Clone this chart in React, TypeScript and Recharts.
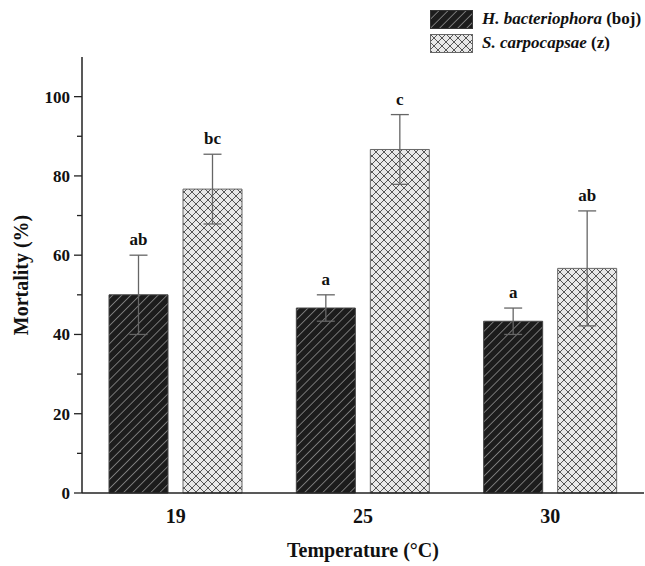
import { Bar, BarChart, ErrorBar, LabelList, XAxis, YAxis } from "recharts";

const temps = ["19", "25", "30"];
const hbMean = [50, 46.67, 43.33];
const hbErr = [10, 3.33, 3.33];
const hbSig = ["ab", "a", "a"];
const scMean = [76.67, 86.67, 56.67];
const scErr = [8.8, 8.8, 14.5];
const scSig = ["bc", "c", "ab"];
const yTicks = [0, 10, 20, 30, 40, 50, 60, 70, 80, 90, 100];

const data = temps.map((t, i) => ({
  temp: t,
  hb: hbMean[i],
  hbErr: hbErr[i],
  hbSig: hbSig[i],
  sc: scMean[i],
  scErr: scErr[i],
  scSig: scSig[i],
}));

const FONT = '"Liberation Serif", "Times New Roman", serif';
const AXIS_X = 82;

function YTick(props: any) {
  const { y, payload } = props;
  const major = payload.value % 20 === 0;
  return (
    <g>
      <line x1={AXIS_X} x2={AXIS_X - (major ? 8 : 5)} y1={y} y2={y} stroke="#222" strokeWidth={1.3} />
      {major && (
        <text x={AXIS_X - 12} y={y} dy={6} textAnchor="end" fontFamily={FONT} fontWeight="bold" fontSize={17} fill="#111">
          {payload.value}
        </text>
      )}
    </g>
  );
}

function sigLabel(key: "hb" | "sc", errs: number[]) {
  return (props: any) => {
    const { x, y, width, height, value, index } = props;
    const perUnit = height / data[index][key];
    const top = y - errs[index] * perUnit;
    return (
      <text x={x + width / 2} y={top - 10} textAnchor="middle" fontFamily={FONT} fontWeight="bold" fontSize={17} fill="#111">
        {value}
      </text>
    );
  };
}

function LegendBox() {
  const row = (fill: string, stroke: string, name: string, tag: string) => (
    <div style={{ display: "flex", alignItems: "center", height: 24 }}>
      <svg width={44} height={19} style={{ marginRight: 8 }}>
        <rect x={0.5} y={0.5} width={42} height={18} fill={fill} stroke={stroke} />
      </svg>
      <span style={{ fontFamily: FONT, fontWeight: "bold", fontSize: 17, color: "#111", whiteSpace: "nowrap" }}>
        <i>{name}</i> {tag}
      </span>
    </div>
  );
  return (
    <div style={{ position: "absolute", left: 430, top: 7 }}>
      {row("url(#hatchDark)", "#333", "H. bacteriophora", "(boj)")}
      {row("url(#hatchCross)", "#666", "S. carpocapsae", "(z)")}
    </div>
  );
}

export default function App() {
  return (
    <div style={{ position: "absolute", left: 0, top: 0, width: 645, height: 566, background: "#fff" }}>
      <svg width={0} height={0} style={{ position: "absolute" }}>
        <defs>
          <pattern id="hatchDark" patternUnits="userSpaceOnUse" width={6.4} height={10} patternTransform="rotate(45)">
            <rect width={6.4} height={10} fill="#1c1c1c" />
            <line x1={0} y1={0} x2={0} y2={10} stroke="#b0b0b0" strokeWidth={1.2} />
          </pattern>
          <pattern id="hatchCross" patternUnits="userSpaceOnUse" width={8} height={8}>
            <rect width={8} height={8} fill="#e8e8e8" />
            <path d="M0,0 L8,8 M0,8 L8,0" stroke="#555" strokeWidth={1} />
          </pattern>
        </defs>
      </svg>
      <BarChart
        width={645}
        height={566}
        data={data}
        margin={{ top: 57, right: 1, bottom: 0, left: 0 }}
        barGap={15}
        barSize={59}
      >
        <XAxis
          dataKey="temp"
          height={73}
          tickLine={false}
          axisLine={{ stroke: "#222", strokeWidth: 1.5 }}
          tick={{ fontFamily: FONT, fontWeight: "bold", fontSize: 20, fill: "#111", dy: 8 }}
          label={{
            content: (p: any) => (
              <text
                x={p.viewBox.x + p.viewBox.width / 2}
                y={557}
                textAnchor="middle"
                fontFamily={FONT}
                fontWeight="bold"
                fontSize={20}
                fill="#111"
              >
                Temperature (°C)
              </text>
            ),
          }}
        />
        <YAxis
          width={82}
          domain={[0, 110]}
          ticks={yTicks}
          interval={0}
          tickLine={false}
          axisLine={{ stroke: "#222", strokeWidth: 1.5 }}
          tick={<YTick />}
          label={{
            content: (p: any) => {
              const cy = p.viewBox.y + p.viewBox.height / 2;
              return (
                <text
                  x={28}
                  y={cy}
                  transform={`rotate(-90, 28, ${cy})`}
                  textAnchor="middle"
                  fontFamily={FONT}
                  fontWeight="bold"
                  fontSize={20}
                  fill="#111"
                >
                  Mortality (%)
                </text>
              );
            },
          }}
        />
        <Bar dataKey="hb" fill="url(#hatchDark)" stroke="#444" strokeWidth={1} isAnimationActive={false}>
          <ErrorBar dataKey="hbErr" width={9} stroke="#666" strokeWidth={1.3} />
          <LabelList dataKey="hbSig" content={sigLabel("hb", hbErr)} />
        </Bar>
        <Bar dataKey="sc" fill="url(#hatchCross)" stroke="#666" strokeWidth={1} isAnimationActive={false}>
          <ErrorBar dataKey="scErr" width={9} stroke="#666" strokeWidth={1.3} />
          <LabelList dataKey="scSig" content={sigLabel("sc", scErr)} />
        </Bar>
      </BarChart>
      <LegendBox />
    </div>
  );
}
